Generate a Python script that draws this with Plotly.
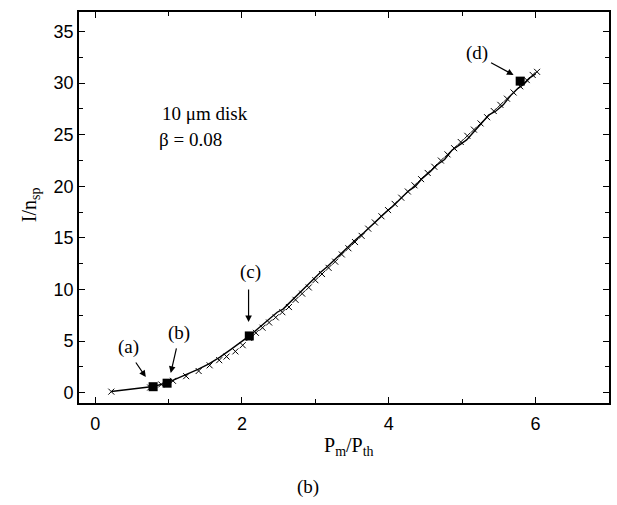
import plotly.graph_objects as go

# simulated curve (solid line)
x_line = [0.22, 0.45, 0.62, 0.79, 0.98, 1.10, 1.25, 1.40, 1.55, 1.70, 1.85, 1.98, 2.10, 2.20, 2.30, 2.40, 2.48, 2.56, 2.66, 2.76, 2.86, 2.96, 3.06, 3.16, 3.26, 3.36, 3.46, 3.56, 3.66, 3.76, 3.86, 3.96, 4.06, 4.16, 4.26, 4.36, 4.46, 4.56, 4.66, 4.76, 4.86, 4.96, 5.06, 5.16, 5.26, 5.36, 5.46, 5.56, 5.66, 5.76, 5.84, 5.92, 6.00]
y_line = [0.12, 0.30, 0.45, 0.60, 0.95, 1.30, 1.75, 2.25, 2.80, 3.45, 4.20, 4.85, 5.50, 6.10, 6.70, 7.30, 7.80, 8.10, 8.80, 9.60, 10.2, 10.9, 11.6, 12.2, 12.9, 13.5, 14.2, 14.9, 15.5, 16.2, 16.8, 17.5, 18.1, 18.8, 19.5, 20.0, 20.8, 21.4, 22.1, 22.6, 23.5, 24.0, 24.5, 25.3, 26.1, 26.9, 27.3, 27.9, 28.8, 29.5, 29.9, 30.5, 30.9]

# measured points (crosses)
x_cross = [0.22, 0.75, 0.90, 1.06, 1.24, 1.41, 1.56, 1.69, 1.79, 1.91, 2.01, 2.10, 2.19, 2.28, 2.37, 2.46, 2.55, 2.64, 2.73, 2.82, 2.91, 3.00, 3.09, 3.18, 3.27, 3.36, 3.45, 3.54, 3.63, 3.72, 3.81, 3.90, 3.99, 4.08, 4.17, 4.26, 4.35, 4.44, 4.53, 4.62, 4.71, 4.80, 4.89, 4.98, 5.07, 5.16, 5.25, 5.34, 5.43, 5.52, 5.61, 5.70, 5.79, 5.88, 5.96, 6.02]
y_cross = [0.10, 0.50, 0.80, 1.15, 1.60, 2.10, 2.65, 3.15, 3.50, 4.00, 4.60, 5.30, 5.80, 6.30, 6.80, 7.30, 7.80, 8.30, 9.00, 9.60, 10.2, 10.9, 11.5, 12.1, 12.7, 13.4, 14.0, 14.6, 15.2, 15.9, 16.5, 17.1, 17.7, 18.3, 18.9, 19.5, 20.1, 20.7, 21.3, 21.9, 22.5, 23.1, 23.7, 24.3, 24.9, 25.5, 26.1, 26.7, 27.3, 27.9, 28.5, 29.1, 29.7, 30.3, 30.8, 31.1]

# highlighted points (a)-(d)
x_sq = [0.79, 0.98, 2.10, 5.79]
y_sq = [0.58, 0.92, 5.50, 30.2]
sq_labels = ["(a)", "(b)", "(c)", "(d)"]

fig = go.Figure()
fig.add_trace(go.Scatter(x=x_line, y=y_line, mode="lines",
                         line=dict(color="black", width=1.4), showlegend=False))
fig.add_trace(go.Scatter(x=x_cross, y=y_cross, mode="markers",
                         marker=dict(symbol="x-thin", size=6, line=dict(color="black", width=1)),
                         showlegend=False))
fig.add_trace(go.Scatter(x=x_sq, y=y_sq, mode="markers",
                         marker=dict(symbol="square", size=9, color="black"),
                         showlegend=False))

serif = "Liberation Serif, Times New Roman, serif"
sans = "Liberation Sans, Arial, sans-serif"
# arrows: head position (data) and tail offset (pixels)
heads = [(0.69, 1.52), (1.03, 1.91), (2.09, 6.85), (5.70, 30.8)]
offsets = [(-11, -16), (6, -26), (0, -34), (-24, -13)]
for (hx, hy), (ax, ay) in zip(heads, offsets):
    fig.add_annotation(x=hx, y=hy, ax=ax, ay=ay, text="", showarrow=True,
                       arrowhead=2, arrowsize=1.1, arrowwidth=1.2, arrowcolor="black")
label_pos = [(0.45, 4.43), (1.14, 5.79), (2.12, 11.7), (5.2, 32.9)]
for (lx, ly), lab in zip(label_pos, sq_labels):
    fig.add_annotation(x=lx, y=ly, text=lab, showarrow=False,
                       xanchor="center", yanchor="middle",
                       font=dict(family=serif, size=19, color="black"))

fig.add_annotation(x=(160 - 79) / 532, y=(403 - 113) / 391, xref="paper", yref="paper",
                   xanchor="left", yanchor="middle", text="10 μm disk", showarrow=False,
                   font=dict(family=serif, size=19, color="black"))
fig.add_annotation(x=(157 - 79) / 532, y=(403 - 139) / 391, xref="paper", yref="paper",
                   xanchor="left", yanchor="middle", text="β = 0.08", showarrow=False,
                   font=dict(family=serif, size=19, color="black"))

# axis titles and caption
fig.add_annotation(x=(350 - 79) / 532, y=-(446 - 403) / 391, xref="paper", yref="paper",
                   xanchor="center", yanchor="middle",
                   text="P<sub>m</sub>/P<sub>th</sub>", showarrow=False,
                   font=dict(family=serif, size=20, color="black"))
fig.add_annotation(x=-(79 - 31) / 532, y=(403 - 205) / 391, xref="paper", yref="paper",
                   xanchor="center", yanchor="middle",
                   text="I/n<sub>sp</sub>", textangle=-90, showarrow=False,
                   font=dict(family=serif, size=20, color="black"))
fig.add_annotation(x=(309 - 79) / 532, y=-(487 - 403) / 391, xref="paper", yref="paper",
                   xanchor="center", yanchor="middle",
                   text="(b)", showarrow=False,
                   font=dict(family=serif, size=19, color="black"))

axis_common = dict(showline=True, linecolor="black", linewidth=1.6, mirror="allticks",
                   ticks="inside", ticklen=6, tickwidth=1.4, tickcolor="black",
                   showgrid=False, zeroline=False,
                   tickfont=dict(family=sans, size=18, color="black"))
fig.update_xaxes(range=[-0.22, 7.0], tickvals=[0, 2, 4, 6], ticklabelstandoff=4,
                 minor=dict(ticks="inside", ticklen=4, tickwidth=1.2, tickcolor="black",
                            tickvals=[1, 3, 5], showgrid=False),
                 **axis_common)
fig.update_yaxes(range=[-1.0, 36.9], tickvals=[0, 5, 10, 15, 20, 25, 30, 35],
                 minor=dict(ticks="inside", ticklen=4, tickwidth=1.2, tickcolor="black",
                            tickvals=[2.5, 7.5, 12.5, 17.5, 22.5, 27.5, 32.5], showgrid=False),
                 **axis_common)
fig.update_layout(width=617, height=505, margin=dict(l=79, r=6, t=12, b=102),
                  plot_bgcolor="white", paper_bgcolor="white")
fig.write_html("out.html")
